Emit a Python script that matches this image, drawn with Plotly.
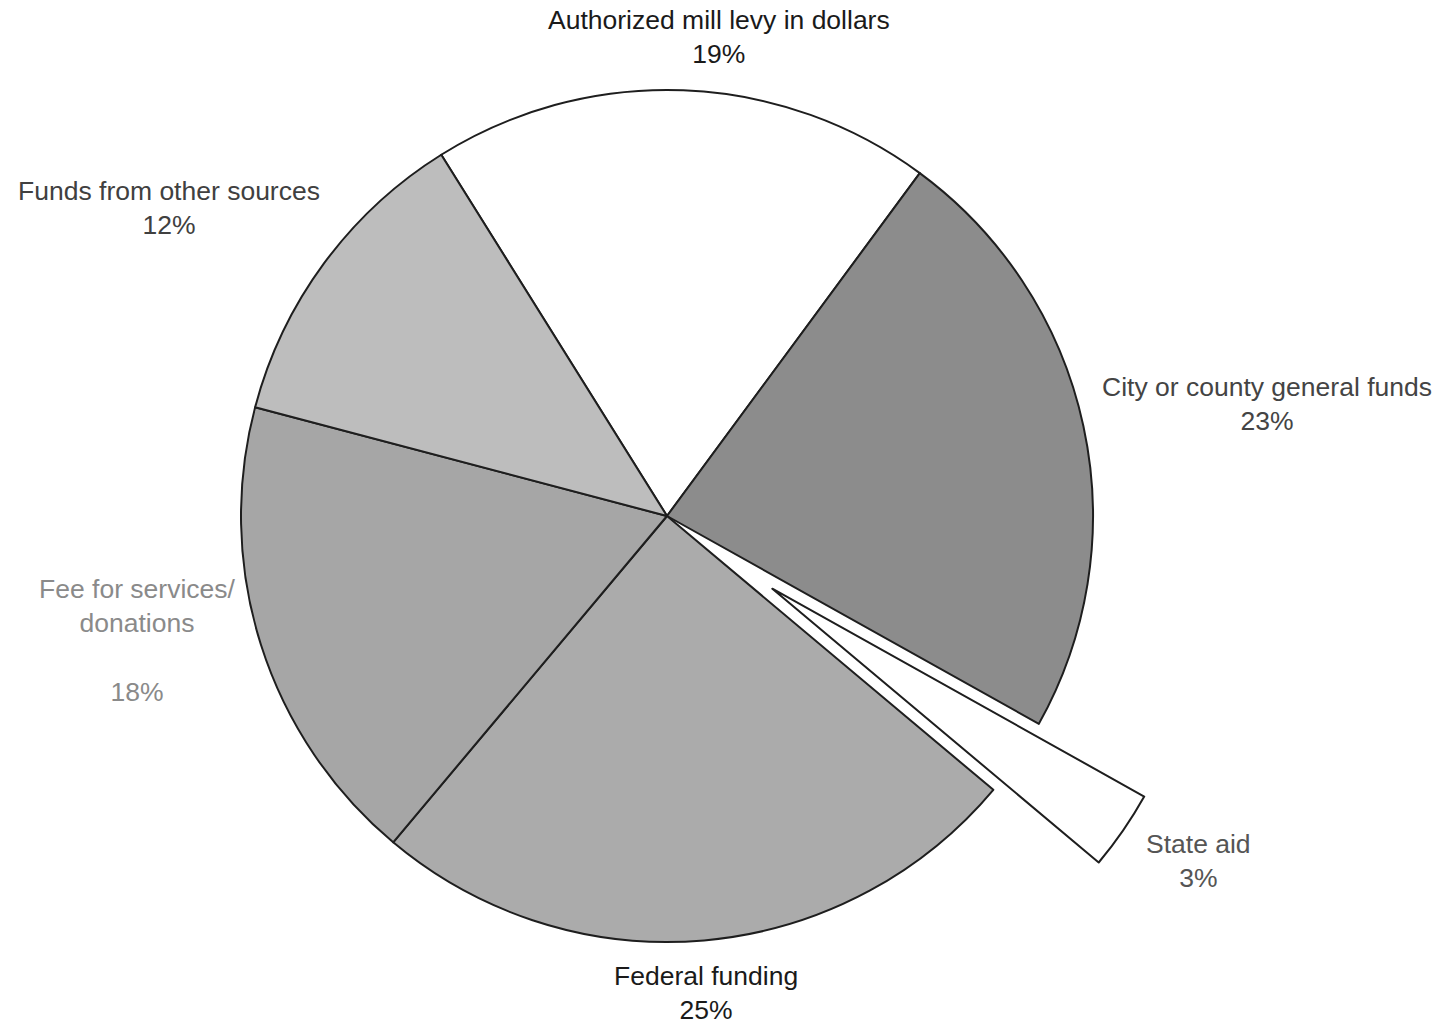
import math
import plotly.graph_objects as go

# Revenue sources (percent of total)
labels = [
    "Authorized mill levy in dollars",
    "City or county general funds",
    "State aid",
    "Federal funding",
    "Fee for services/<br>donations<br>",
    "Funds from other sources",
]
values = [19, 23, 3, 25, 18, 12]
slice_colors = ["#ffffff", "#8c8c8c", "#ffffff", "#ababab", "#a6a6a6", "#bdbdbd"]
exploded = "State aid"

W, H = 1451, 1026
CX, CY, R = 667, 516, 426          # pie centre / radius in px
ROTATION = -32
PULL_PX = 128
EDGE = "#1e1e1e"

def domain_for(cx, cy):
    return dict(x=[(cx - R) / W, (cx + R) / W],
                y=[1 - (cy + R) / H, 1 - (cy - R) / H])

ex = labels.index(exploded)
total = sum(values)
mid_angle = ROTATION + (sum(values[:ex]) + values[ex] / 2) / total * 360
dx = PULL_PX * math.sin(math.radians(mid_angle))
dy = -PULL_PX * math.cos(math.radians(mid_angle))

fig = go.Figure()

# main pie, with a gap where the exploded slice would sit
fig.add_trace(go.Pie(
    labels=labels, values=values, sort=False, direction="clockwise",
    rotation=ROTATION, textinfo="none", hoverinfo="label+percent",
    domain=domain_for(CX, CY),
    marker=dict(
        colors=["rgba(0,0,0,0)" if i == ex else c for i, c in enumerate(slice_colors)],
        line=dict(color=EDGE, width=[0 if i == ex else 2 for i in range(len(values))]),
    ),
    showlegend=False,
))

# exploded slice drawn on its own, shifted outward along its bisector
fig.add_trace(go.Pie(
    labels=labels, values=values, sort=False, direction="clockwise",
    rotation=ROTATION, textinfo="none", hoverinfo="skip",
    domain=domain_for(CX + dx, CY + dy),
    marker=dict(
        colors=[c if i == ex else "rgba(0,0,0,0)" for i, c in enumerate(slice_colors)],
        line=dict(color=EDGE, width=[2 if i == ex else 0 for i in range(len(values))]),
    ),
    showlegend=False,
))

# outside labels: (x px, y px of block centre, colour)
label_pos = [
    (719, 37, "#1a1a1a"),
    (1267, 404, "#444444"),
    (1198, 861, "#555555"),
    (706, 993, "#1a1a1a"),
    (137, 640, "#8a8a8a"),
    (169, 208, "#404040"),
]
for lab, v, (lx, ly, col) in zip(labels, values, label_pos):
    fig.add_annotation(
        x=lx / W, y=1 - ly / H, xref="paper", yref="paper",
        text=f"{lab}<br>{v}%", showarrow=False,
        xanchor="center", yanchor="middle", align="center",
        font=dict(family="Liberation Sans, Arial, sans-serif", size=26.5, color=col),
    )

fig.update_layout(
    width=W, height=H,
    margin=dict(l=0, r=0, t=0, b=0),
    paper_bgcolor="white", plot_bgcolor="white",
)

fig.write_html("out.html")
